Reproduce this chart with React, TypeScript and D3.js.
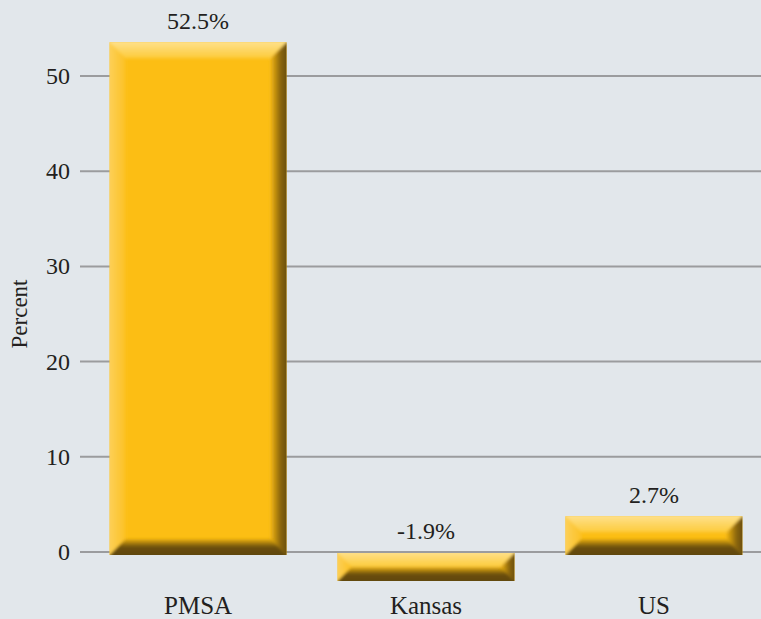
import React from 'react'
import * as d3 from 'd3'

const categories = ['PMSA', 'Kansas', 'US']
const values = [52.5, -1.9, 2.7]
const valueLabels = ['52.5%', '-1.9%', '2.7%']
const yTicks = [0, 10, 20, 30, 40, 50]

const W = 761
const H = 619
const TEXT = '#231f20'
const serif = { fontFamily: '"Liberation Serif"' }

export default function App() {
  // x: 序数段比例尺
  const x = d3.scaleBand<string>()
    .domain(categories)
    .range([80, 772])
    .paddingInner(0.224)
    .paddingOuter(0.13)

  // y: 线性比例尺
  const y = d3.scaleLinear().domain([0, 50]).range([552, 76])

  const depth = 10

  const bars = categories.map((c, i) => {
    const v = values[i]
    const bx = x(c) as number
    const bw = x.bandwidth()
    let top, bottom
    if (v >= 0) {
      top = y(v) - depth
      bottom = y(0) + 3
    } else {
      top = y(0) + 1
      bottom = y(v) + 11
    }
    return { c, v, bx, bw, top, h: bottom - top, label: valueLabels[i] }
  })

  return (
    <svg
      width={W}
      height={H}
      fontFamily="Liberation Serif"
      style={{ position: 'absolute', left: 0, top: 0, background: '#e2e7eb' }}
    >
      <defs>
        <linearGradient id="gTop" x1="0" y1="0" x2="0" y2="1">
          <stop offset="0" stopColor="#fee59c" />
          <stop offset="1" stopColor="#fdcb3a" />
        </linearGradient>
        <linearGradient id="gLeft" x1="0" y1="0" x2="1" y2="0">
          <stop offset="0" stopColor="#fdd364" />
          <stop offset="1" stopColor="#fcc123" />
        </linearGradient>
        <linearGradient id="gRight" x1="0" y1="0" x2="1" y2="0">
          <stop offset="0" stopColor="#f3b614" />
          <stop offset="0.5" stopColor="#8a650b" />
          <stop offset="1" stopColor="#5a4307" />
        </linearGradient>
        <linearGradient id="gBottom" x1="0" y1="0" x2="0" y2="1">
          <stop offset="0" stopColor="#e9ae12" />
          <stop offset="0.4" stopColor="#6a4e08" />
          <stop offset="1" stopColor="#5a4307" />
        </linearGradient>
        <filter id="soft" x="-5%" y="-5%" width="110%" height="110%">
          <feGaussianBlur stdDeviation="1.6" />
        </filter>
        {bars.map((b, i) => (
          <clipPath key={i} id={`clip${i}`}>
            <rect x={b.bx} y={b.top} width={b.bw} height={b.h} />
          </clipPath>
        ))}
      </defs>

      <rect width={W} height={H} fill="#e2e7eb" />

      {/* 网格线和y轴刻度 */}
      {yTicks.map(t => (
        <g key={t}>
          <line x1={80} x2={W} y1={y(t)} y2={y(t)} stroke="#9b9c9e" strokeWidth={2} />
          <text x={70} y={y(t) + 8} textAnchor="end" fontSize={24} fill={TEXT} style={serif}>
            {t}
          </text>
        </g>
      ))}

      <text
        transform={`translate(27,${(y(20) + y(30)) / 2}) rotate(-90)`}
        textAnchor="middle"
        fontSize={23}
        fill={TEXT}
        style={serif}
      >
        Percent
      </text>

      {/* 斜面效果的柱子 */}
      {bars.map((b, i) => {
        const { bx, bw, top, h } = b
        const bv = Math.min(16, h / 2)
        const x0 = bx, x1 = bx + bw, y0 = top, y1 = top + h
        const pts = (arr: number[][]) => arr.map(p => p.join(',')).join(' ')
        return (
          <g key={b.c}>
            <g clipPath={`url(#clip${i})`}>
              <rect x={x0 - 4} y={y0 - 4} width={bw + 8} height={h + 8} fill="#fcbe14" />
              <g filter="url(#soft)">
                <polygon fill="url(#gLeft)" points={pts([[x0 - 4, y0 - 4], [x0 + bv, y0 + bv], [x0 + bv, y1 - bv], [x0 - 4, y1 + 4]])} />
                <polygon fill="url(#gRight)" points={pts([[x1 + 4, y0 - 4], [x1 - bv, y0 + bv], [x1 - bv, y1 - bv], [x1 + 4, y1 + 4]])} />
                <polygon fill="url(#gTop)" points={pts([[x0 - 4, y0 - 4], [x1 + 4, y0 - 4], [x1 - bv, y0 + bv], [x0 + bv, y0 + bv]])} />
                <polygon fill="url(#gBottom)" points={pts([[x0 - 4, y1 + 4], [x1 + 4, y1 + 4], [x1 - bv, y1 - bv], [x0 + bv, y1 - bv]])} />
              </g>
            </g>
            <text
              x={bx + bw / 2}
              y={(b.v >= 0 ? top : y(0)) - 13}
              textAnchor="middle"
              fontSize={24}
              fill={TEXT}
              style={serif}
            >
              {b.label}
            </text>
            <text x={bx + bw / 2} y={614} textAnchor="middle" fontSize={25} fill={TEXT} style={serif}>
              {b.c}
            </text>
          </g>
        )
      })}
    </svg>
  )
}
